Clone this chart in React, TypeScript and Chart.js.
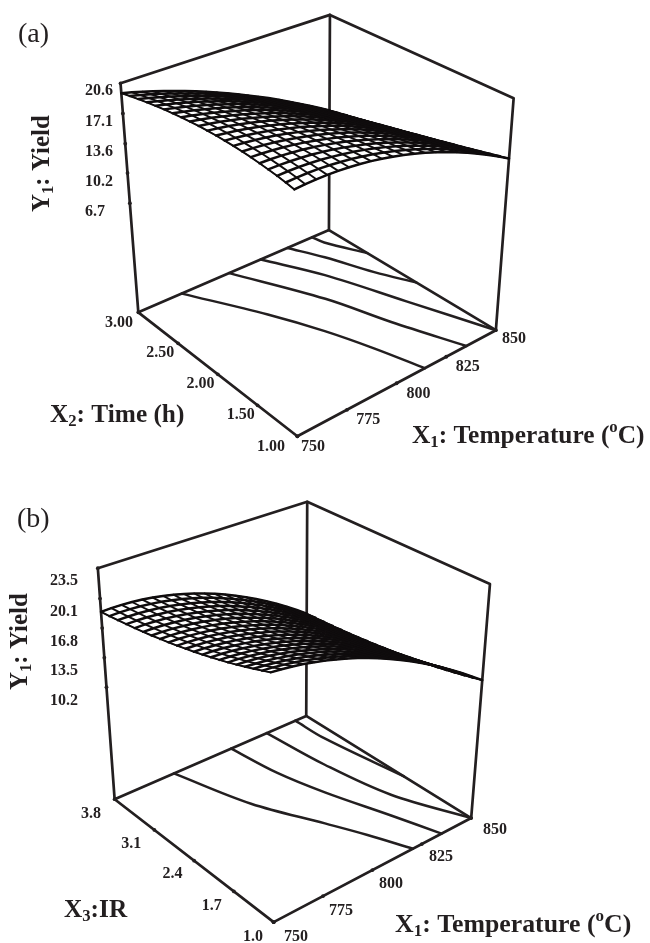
import React, { useEffect, useRef } from "react";
import { Chart, registerables } from "chart.js";

Chart.register(...registerables);

// ---------- data ----------
const x1Ticks = [750, 775, 800, 825, 850];
const x2Ticks = [1.0, 1.5, 2.0, 2.5, 3.0];
const x2TickLabels = ["1.00", "1.50", "2.00", "2.50", "3.00"];
const x3Ticks = [1.0, 1.7, 2.4, 3.1, 3.8];
const x3TickLabels = ["1.0", "1.7", "2.4", "3.1", "3.8"];
const zTicksA = [20.6, 17.1, 13.6, 10.2, 6.7];
const zTicksB = [23.5, 20.1, 16.8, 13.5, 10.2];

const gridX1 = [750, 755, 760, 765, 770, 775, 780, 785, 790, 795, 800, 805, 810, 815, 820, 825, 830, 835, 840, 845, 850];
const gridX2 = [1.0, 1.1, 1.2, 1.3, 1.4, 1.5, 1.6, 1.7, 1.8, 1.9, 2.0, 2.1, 2.2, 2.3, 2.4, 2.5, 2.6, 2.7, 2.8, 2.9, 3.0];
const gridX3 = [1.0, 1.14, 1.28, 1.42, 1.56, 1.7, 1.84, 1.98, 2.12, 2.26, 2.4, 2.54, 2.68, 2.82, 2.96, 3.1, 3.24, 3.38, 3.52, 3.66, 3.8];

// one inner list per X1 value, running along X2
const surfaceA = [
  [20.28,20.47,20.63,20.77,20.88,20.98,21.04,21.09,21.10,21.10,21.07,21.02,20.94,20.84,20.71,20.57,20.39,20.20,19.97,19.73,19.46],
  [20.37,20.53,20.66,20.77,20.86,20.92,20.96,20.98,20.98,20.95,20.90,20.83,20.73,20.62,20.47,20.31,20.12,19.92,19.68,19.43,19.15],
  [20.42,20.55,20.65,20.73,20.79,20.83,20.85,20.85,20.82,20.77,20.71,20.62,20.50,20.37,20.22,20.04,19.84,19.62,19.38,19.12,18.83],
  [20.42,20.52,20.59,20.65,20.68,20.70,20.69,20.67,20.62,20.55,20.47,20.36,20.23,20.08,19.91,19.72,19.51,19.28,19.03,18.76,18.47],
  [20.38,20.45,20.50,20.53,20.54,20.53,20.50,20.46,20.39,20.31,20.20,20.08,19.93,19.77,19.59,19.39,19.17,18.93,18.67,18.40,18.10],
  [20.29,20.33,20.35,20.36,20.35,20.32,20.27,20.20,20.11,20.01,19.89,19.75,19.59,19.42,19.23,19.02,18.79,18.54,18.27,17.99,17.69],
  [20.16,20.18,20.17,20.16,20.12,20.07,20.00,19.91,19.81,19.69,19.56,19.40,19.23,19.05,18.84,18.62,18.39,18.13,17.86,17.57,17.27],
  [19.99,19.98,19.95,19.91,19.86,19.78,19.69,19.59,19.47,19.34,19.19,19.02,18.84,18.64,18.43,18.20,17.95,17.69,17.42,17.13,16.82],
  [19.77,19.74,19.69,19.62,19.55,19.46,19.35,19.23,19.09,18.94,18.78,18.60,18.41,18.20,17.98,17.75,17.50,17.23,16.95,16.66,16.35],
  [19.51,19.45,19.38,19.30,19.20,19.09,18.97,18.83,18.68,18.52,18.34,18.15,17.95,17.73,17.50,17.26,17.00,16.74,16.45,16.16,15.85],
  [19.20,19.12,19.03,18.93,18.81,18.68,18.54,18.39,18.23,18.05,17.87,17.67,17.45,17.23,17.00,16.75,16.49,16.22,15.93,15.64,15.33],
  [18.85,18.75,18.64,18.52,18.38,18.24,18.09,17.92,17.75,17.56,17.36,17.15,16.93,16.70,16.46,16.21,15.95,15.68,15.39,15.10,14.79],
  [18.45,18.33,18.20,18.06,17.91,17.75,17.58,17.40,17.22,17.02,16.81,16.59,16.37,16.13,15.89,15.63,15.37,15.09,14.81,14.51,14.21],
  [18.01,17.87,17.72,17.57,17.40,17.23,17.05,16.86,16.66,16.45,16.24,16.01,15.78,15.54,15.29,15.03,14.77,14.49,14.21,13.92,13.62],
  [17.53,17.37,17.21,17.04,16.86,16.67,16.48,16.28,16.07,15.85,15.63,15.40,15.16,14.92,14.67,14.41,14.15,13.87,13.59,13.31,13.01],
  [17.00,16.83,16.65,16.46,16.27,16.07,15.86,15.65,15.44,15.21,14.99,14.75,14.51,14.26,14.01,13.75,13.49,13.22,12.94,12.66,12.37],
  [16.43,16.24,16.04,15.84,15.64,15.43,15.21,14.99,14.77,14.54,14.31,14.07,13.82,13.57,13.32,13.06,12.80,12.53,12.26,11.98,11.70],
  [15.81,15.60,15.40,15.18,14.97,14.75,14.52,14.29,14.06,13.83,13.59,13.35,13.10,12.85,12.60,12.35,12.09,11.82,11.56,11.28,11.01],
  [15.15,14.93,14.71,14.48,14.26,14.03,13.80,13.56,13.33,13.09,12.85,12.60,12.36,12.11,11.86,11.60,11.35,11.09,10.83,10.57,10.30],
  [14.44,14.21,13.97,13.74,13.50,13.27,13.03,12.79,12.55,12.30,12.06,11.82,11.57,11.32,11.07,10.83,10.57,10.32,10.07,9.82,9.56],
  [13.69,13.45,13.20,12.96,12.71,12.47,12.22,11.98,11.73,11.49,11.25,11.00,10.76,10.51,10.27,10.02,9.78,9.53,9.29,9.04,8.80],
];

// one inner list per X1 value, running along X3
const surfaceB = [
  [23.19,22.85,22.52,22.20,21.89,21.59,21.31,21.04,20.78,20.53,20.30,20.08,19.87,19.67,19.48,19.31,19.15,19.00,18.86,18.73,18.62],
  [23.07,22.74,22.42,22.10,21.80,21.52,21.24,20.98,20.73,20.49,20.26,20.04,19.84,19.65,19.47,19.30,19.15,19.00,18.87,18.75,18.64],
  [22.92,22.59,22.27,21.97,21.68,21.40,21.13,20.87,20.63,20.39,20.17,19.96,19.77,19.58,19.41,19.25,19.10,18.96,18.84,18.72,18.62],
  [22.72,22.40,22.09,21.79,21.51,21.23,20.97,20.72,20.48,20.26,20.04,19.84,19.65,19.47,19.30,19.15,19.01,18.87,18.75,18.65,18.55],
  [22.47,22.16,21.86,21.57,21.29,21.02,20.77,20.53,20.30,20.08,19.87,19.67,19.49,19.31,19.15,19.00,18.86,18.74,18.62,18.52,18.43],
  [22.19,21.88,21.59,21.31,21.03,20.77,20.52,20.29,20.06,19.85,19.65,19.46,19.28,19.11,18.95,18.81,18.68,18.56,18.45,18.35,18.26],
  [21.86,21.56,21.28,21.00,20.73,20.48,20.24,20.01,19.79,19.58,19.38,19.20,19.02,18.86,18.71,18.57,18.44,18.33,18.22,18.13,18.05],
  [21.50,21.20,20.92,20.65,20.39,20.14,19.90,19.68,19.47,19.26,19.07,18.89,18.72,18.57,18.42,18.29,18.16,18.05,17.95,17.86,17.79],
  [21.09,20.80,20.52,20.26,20.00,19.76,19.53,19.31,19.10,18.90,18.72,18.54,18.38,18.22,18.08,17.95,17.84,17.73,17.63,17.55,17.47],
  [20.63,20.35,20.08,19.82,19.57,19.34,19.11,18.89,18.69,18.50,18.32,18.15,17.99,17.84,17.70,17.58,17.46,17.36,17.27,17.19,17.12],
  [20.14,19.86,19.60,19.34,19.10,18.87,18.65,18.44,18.24,18.05,17.87,17.70,17.55,17.41,17.27,17.15,17.04,16.94,16.85,16.78,16.71],
  [19.60,19.33,19.07,18.82,18.58,18.35,18.14,17.93,17.74,17.55,17.38,17.22,17.07,16.93,16.80,16.68,16.57,16.48,16.39,16.32,16.26],
  [19.03,18.76,18.50,18.26,18.02,17.80,17.59,17.39,17.19,17.01,16.85,16.69,16.54,16.40,16.28,16.16,16.06,15.97,15.89,15.81,15.75],
  [18.41,18.14,17.89,17.65,17.42,17.20,16.99,16.79,16.61,16.43,16.27,16.11,15.97,15.83,15.71,15.60,15.50,15.41,15.33,15.26,15.21],
  [17.74,17.49,17.24,17.00,16.77,16.56,16.35,16.16,15.98,15.80,15.64,15.49,15.35,15.22,15.10,14.99,14.89,14.81,14.73,14.66,14.61],
  [17.04,16.79,16.54,16.31,16.09,15.87,15.67,15.48,15.30,15.13,14.97,14.82,14.68,14.56,14.44,14.33,14.24,14.15,14.08,14.02,13.96],
  [16.29,16.04,15.80,15.57,15.35,15.14,14.95,14.76,14.58,14.41,14.26,14.11,13.98,13.85,13.74,13.63,13.54,13.46,13.38,13.32,13.27],
  [15.51,15.26,15.02,14.79,14.58,14.37,14.18,13.99,13.82,13.65,13.50,13.35,13.22,13.10,12.99,12.88,12.79,12.71,12.64,12.58,12.53],
  [14.68,14.43,14.20,13.97,13.76,13.56,13.36,13.18,13.01,12.85,12.69,12.55,12.42,12.30,12.19,12.09,12.00,11.92,11.85,11.79,11.74],
  [13.80,13.56,13.33,13.11,12.90,12.70,12.51,12.33,12.16,11.99,11.84,11.70,11.58,11.46,11.35,11.25,11.16,11.08,11.01,10.95,10.90],
  [12.89,12.65,12.42,12.20,11.99,11.79,11.61,11.43,11.26,11.10,10.95,10.81,10.68,10.57,10.46,10.36,10.27,10.19,10.13,10.07,10.02],
];

// contour lines on the floor: [X1, X2 or X3]
const contoursA = [
  [[772.8, 3.0], [791.1, 2.37], [801.2, 1.91], [808.3, 1.47], [814.2, 1.0]],
  [[797.7, 3.0], [815.8, 2.25], [824.7, 1.66], [835.1, 1.0]],
  [[814.2, 3.0], [826.7, 2.51], [838.4, 1.8], [850, 1.0]],
  [[828.2, 3.0], [835.2, 2.71], [842.8, 2.29], [850, 1.95]],
  [[841.2, 3.0], [842.3, 2.88], [850, 2.54]],
];
const contoursB = [
  [[780.9, 3.8], [792, 2.83], [805.9, 2.02], [813.4, 1.54], [820.5, 1.0]],
  [[810.8, 3.8], [814, 3.11], [819.6, 2.48], [828.7, 1.65], [835, 1.0]],
  [[829.4, 3.8], [832.2, 2.9], [837.9, 1.96], [850, 1.0]],
  [[844.3, 3.8], [844.6, 3.31], [850, 2.14]],
];

// ---------- view set-up ----------
const INK = "#231f20";
const W = 650;
const H = 943;
const SERIF = '"Liberation Serif"';

type Pt = [number, number];
const viewA = {
  // corners are named by position: left, back, right, front
  floor: { l: [136, 311] as Pt, b: [329, 228] as Pt, r: [498, 329] as Pt, f: [297, 436] as Pt },
  top: { l: [118, 80] as Pt, b: [330, 11] as Pt, r: [516, 95] as Pt, f: [294, 184] as Pt },
  zRange: [-5.96, 20.6],
  yRange: [1.0, 3.0],
  zLabelX: 85,
  zLabelDy: 11,
  yOff: [[-26, 11], [-16, 10], [-16, 10], [-16, 11], [-17, 12]],
  xOff: [[16, 11], [21, 11], [21, 11], [20, 11], [16, 10]],
};
const viewB = {
  floor: { l: [112, 802] as Pt, b: [306, 718] as Pt, r: [473, 821] as Pt, f: [273, 926] as Pt },
  top: { l: [95, 569] as Pt, b: [307, 502] as Pt, r: [492, 585] as Pt, f: [270, 671] as Pt },
  zRange: [-2.32, 23.5],
  yRange: [1.0, 3.8],
  zLabelX: 50,
  zLabelDy: 12,
  yOff: [[-20, 11], [-21, 11], [-20, 10], [-21, 11], [-21, 12]],
  xOff: [[23, 11], [18, 11], [18, 10], [18, 10], [22, 9]],
};
type View = typeof viewA;

const bilinear = (q: View["floor"], u: number, v: number): Pt => {
  const xy = (i: 0 | 1) =>
    q.f[i] * (1 - u) * (1 - v) + q.r[i] * u * (1 - v) + q.l[i] * (1 - u) * v + q.b[i] * u * v;
  return [xy(0), xy(1)];
};
// data (X1, X2|X3, Y) -> page position used as the scatter scale's value
const project = (view: View, x1: number, y: number, z: number) => {
  const u = (x1 - 750) / 100;
  const v = (y - view.yRange[0]) / (view.yRange[1] - view.yRange[0]);
  const f = (z - view.zRange[0]) / (view.zRange[1] - view.zRange[0]);
  const a = bilinear(view.floor, u, v);
  const b = bilinear(view.top, u, v);
  return { x: a[0] + (b[0] - a[0]) * f, y: a[1] + (b[1] - a[1]) * f };
};

const line = (data: { x: number; y: number }[], extra: object = {}) => ({
  data,
  showLine: true,
  pointRadius: 0,
  borderColor: INK,
  borderWidth: 2,
  borderCapStyle: "round",
  borderJoinStyle: "round",
  backgroundColor: "transparent",
  fill: false,
  clip: false,
  ...extra,
});

const panelDatasets = (view: View, gridY: number[], surface: number[][], contours: number[][][], yTicks: number[], zTicks: number[]) => {
  const [y0, y1] = view.yRange;
  const [z0, z1] = view.zRange;
  const P = (a: number, b: number, c: number) => project(view, a, b, c);
  const ds: object[] = [];
  // frame
  ds.push(
    line([P(750, y1, z0), P(850, y1, z0), P(850, y0, z0), P(750, y0, z0), P(750, y1, z0)], { order: 5, borderWidth: 2.7 }),
    line([P(750, y1, z0), P(750, y1, z1), P(850, y1, z1), P(850, y0, z1), P(850, y0, z0)], { order: 5, borderWidth: 2.7 }),
    line([P(850, y1, z0), P(850, y1, z1)], { order: 5, borderWidth: 2.7 }),
  );
  // contours
  contours.forEach((c) =>
    ds.push(line(c.map(([a, b]) => P(a, b, z0)), { order: 4, tension: 0.35, borderWidth: 2.5 })),
  );
  // tick marks
  const marks = [
    ...x1Ticks.map((t) => P(t, y0, z0)),
    ...yTicks.map((t) => P(750, t, z0)),
    ...zTicks.map((t) => P(750, y1, t)),
  ];
  ds.push({ data: marks, showLine: false, pointRadius: 1.9, pointBackgroundColor: INK, pointBorderWidth: 0, order: 4, clip: false });
  // white sheet under the mesh, so the back post is hidden
  const n = gridX1.length - 1;
  const m = gridY.length - 1;
  const outline = [
    ...gridY.map((y, j) => P(gridX1[0], y, surface[0][j])),
    ...gridX1.map((x, i) => P(x, gridY[m], surface[i][m])),
    ...gridY.map((y, j) => P(gridX1[n], y, surface[n][j])).reverse(),
    ...gridX1.map((x, i) => P(x, gridY[0], surface[i][0])).reverse(),
  ];
  ds.push(line(outline, { order: 3, fill: "shape", backgroundColor: "#ffffff", borderWidth: 1.2 }));
  // mesh
  gridX1.forEach((x, i) =>
    ds.push(line(gridY.map((y, j) => P(x, y, surface[i][j])), { order: 2, borderWidth: 1.9, borderColor: "#0f0c0d" })),
  );
  gridY.forEach((y, j) =>
    ds.push(line(gridX1.map((x, i) => P(x, y, surface[i][j])), { order: 2, borderWidth: 2.5, borderColor: "#0f0c0d" })),
  );
  return ds;
};

// ---------- text ----------
type Seg = { t: string; kind?: "sub" | "sup" };
const rich = (ctx: CanvasRenderingContext2D, segs: Seg[], x: number, y: number, size: number, rot = 0) => {
  ctx.save();
  ctx.translate(x, y);
  ctx.rotate(rot);
  ctx.textAlign = "left";
  ctx.textBaseline = "alphabetic";
  let pen = 0;
  segs.forEach((s) => {
    const sz = s.kind ? size * 0.66 : size;
    ctx.font = `bold ${sz}px ${SERIF}`;
    const dy = s.kind === "sub" ? size * 0.17 : s.kind === "sup" ? -size * 0.42 : 0;
    ctx.fillText(s.t, pen, dy);
    pen += ctx.measureText(s.t).width;
  });
  ctx.restore();
};

const tickText = (ctx: CanvasRenderingContext2D, view: View, yTicks: number[], yLabels: string[], zTicks: number[]) => {
  const [y0, y1] = view.yRange;
  const z0 = view.zRange[0];
  ctx.font = `bold 16px ${SERIF}`;
  ctx.textBaseline = "middle";
  ctx.textAlign = "center";
  x1Ticks.forEach((t, i) => {
    const p = project(view, t, y0, z0);
    ctx.fillText(String(t), p.x + view.xOff[i][0], p.y + view.xOff[i][1]);
  });
  yTicks.forEach((t, i) => {
    const p = project(view, 750, t, z0);
    ctx.fillText(yLabels[i], p.x + view.yOff[i][0], p.y + view.yOff[i][1]);
  });
  ctx.textAlign = "left";
  zTicks.forEach((t) => {
    const p = project(view, 750, y1, t);
    ctx.fillText(t.toFixed(1), view.zLabelX, p.y + view.zLabelDy);
  });
};

const labelsPlugin = {
  id: "panelLabels",
  afterDraw(chart: Chart) {
    const ctx = chart.ctx;
    ctx.save();
    ctx.fillStyle = INK;
    ctx.textBaseline = "alphabetic";
    ctx.textAlign = "left";
    ctx.font = `28px ${SERIF}`;
    ctx.fillText("(a)", 18, 42);
    ctx.fillText("(b)", 17, 527);
    tickText(ctx, viewA, x2Ticks, x2TickLabels, zTicksA);
    tickText(ctx, viewB, x3Ticks, x3TickLabels, zTicksB);
    const yield1: Seg[] = [{ t: "Y" }, { t: "1", kind: "sub" }, { t: ": Yield" }];
    const temp: Seg[] = [{ t: "X" }, { t: "1", kind: "sub" }, { t: ": Temperature (" }, { t: "o", kind: "sup" }, { t: "C)" }];
    rich(ctx, yield1, 49, 212, 25, -Math.PI / 2);
    rich(ctx, yield1, 27, 690, 25, -Math.PI / 2);
    rich(ctx, [{ t: "X" }, { t: "2", kind: "sub" }, { t: ": Time (h)" }], 50, 422, 25.3);
    rich(ctx, temp, 412, 443, 25.4);
    rich(ctx, [{ t: "X" }, { t: "3", kind: "sub" }, { t: ":IR" }], 64, 917, 25.3);
    rich(ctx, temp, 395, 932, 25.8);
    ctx.restore();
  },
};

export default function App() {
  const ref = useRef<HTMLCanvasElement>(null);
  useEffect(() => {
    document.body.style.margin = "0";
    const chart = new Chart(ref.current as HTMLCanvasElement, {
      type: "scatter",
      data: {
        datasets: [
          ...panelDatasets(viewA, gridX2, surfaceA, contoursA, x2Ticks, zTicksA),
          ...panelDatasets(viewB, gridX3, surfaceB, contoursB, x3Ticks, zTicksB),
        ] as any,
      },
      options: {
        animation: false,
        responsive: false,
        layout: { padding: 0 },
        plugins: { legend: { display: false }, tooltip: { enabled: false } },
        scales: {
          x: { type: "linear", min: 0, max: W, display: false },
          y: { type: "linear", min: 0, max: H, reverse: true, display: false },
        },
      },
      plugins: [labelsPlugin],
    });
    return () => chart.destroy();
  }, []);
  return <canvas ref={ref} width={W} height={H} style={{ display: "block", width: W, height: H }} />;
}
